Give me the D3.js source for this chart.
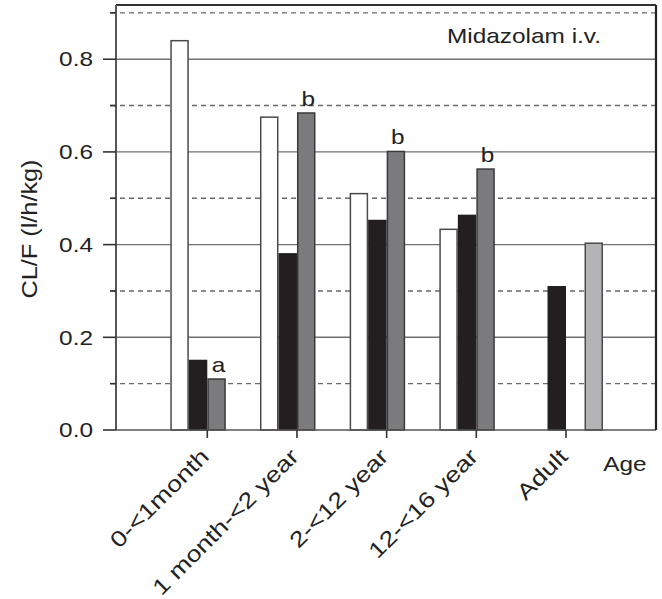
<!DOCTYPE html>
<html><head><meta charset="utf-8">
<script src="https://cdn.jsdelivr.net/npm/d3@7"></script>
<style>body{margin:0;background:#fff}svg{display:block}text{font-family:"Liberation Sans",Arial,sans-serif;fill:#222}</style>
</head><body><svg id="c" width="662" height="599"></svg>
<script>
const categories = ["0-<1month", "1 month-<2 year", "2-<12 year", "12-<16 year", "Adult"];
const seriesKeys = ["white", "black", "gray", "light"];
const whiteVals = [0.84, 0.675, 0.51, 0.433, null];
const blackVals = [0.15, 0.38, 0.452, 0.463, 0.309];
const grayVals  = [0.11, 0.684, 0.601, 0.563, null];
const lightVals = [null, null, null, null, 0.403];
const grayMarks = ["a", "b", "b", "b", ""];
const majorTicks = [0, 0.2, 0.4, 0.6, 0.8];
const minorTicks = [0.1, 0.3, 0.5, 0.7, 0.9];
const yTitle = "CL/F (l/h/kg)";
const panelTitle = "Midazolam i.v.";
const xTitle = "Age";

const svg = d3.select("#c");
const L = 116, R = 656, T = 5, B = 430;
const SX = 1.22;
const y = d3.scaleLinear().domain([0, 0.917]).range([B, T]);
const x = d3.scalePoint().domain(categories).range([207.3, 566]);
const inner = d3.scaleBand().domain(seriesKeys).range([-37, 37]);

const fills = {white: "#ffffff", black: "#231f20", gray: "#7b7b7d", light: "#b4b4b6"};
const strokes = {white: "#4a4a4a", black: "#231f20", gray: "#3a3a3a", light: "#4a4a4a"};
const vals = {white: whiteVals, black: blackVals, gray: grayVals, light: lightVals};

// gridlines
svg.append("g").selectAll("line").data(majorTicks.filter(d => d > 0)).join("line")
  .attr("x1", L).attr("x2", R).attr("y1", d => y(d)).attr("y2", d => y(d))
  .attr("stroke", "#707070").attr("stroke-width", 1.4);
svg.append("g").selectAll("line").data(minorTicks).join("line")
  .attr("x1", L - 5).attr("x2", R).attr("y1", d => y(d)).attr("y2", d => y(d))
  .attr("stroke", "#6a6a6a").attr("stroke-width", 1.4).attr("stroke-dasharray", "5,4");

// bars
const rows = [];
categories.forEach((c, i) => seriesKeys.forEach(k => {
  const v = vals[k][i];
  if (v != null) rows.push({c, k, v, i});
}));
svg.append("g").selectAll("rect").data(rows).join("rect")
  .attr("x", d => x(d.c) + inner(d.k) + 0.75)
  .attr("width", inner.bandwidth() - 1.5)
  .attr("y", d => y(d.v))
  .attr("height", d => y(0) - y(d.v))
  .attr("fill", d => fills[d.k])
  .attr("stroke", d => strokes[d.k])
  .attr("stroke-width", 1.5);

// significance marks
svg.append("g").selectAll("text").data(categories.map((c, i) => ({c, m: grayMarks[i], v: grayVals[i]})).filter(d => d.m))
  .join("text")
  .attr("transform", d => `translate(${x(d.c) + inner("gray") + inner.bandwidth() / 2 + 2},${y(d.v) - 7}) scale(${SX},1)`)
  .attr("text-anchor", "middle").attr("font-size", 20).text(d => d.m);

// frame
svg.append("line").attr("x1", L).attr("x2", R).attr("y1", B).attr("y2", B).attr("stroke", "#555").attr("stroke-width", 1.5);
svg.append("line").attr("x1", L).attr("x2", R).attr("y1", T).attr("y2", T).attr("stroke", "#333").attr("stroke-width", 2);
svg.append("line").attr("x1", R).attr("x2", R).attr("y1", T).attr("y2", B).attr("stroke", "#222").attr("stroke-width", 2.2);
svg.append("line").attr("x1", L).attr("x2", L).attr("y1", T).attr("y2", B).attr("stroke", "#555").attr("stroke-width", 2);

// y ticks
svg.append("g").selectAll("line").data(majorTicks).join("line")
  .attr("x1", L - 13).attr("x2", L).attr("y1", d => y(d)).attr("y2", d => y(d))
  .attr("stroke", "#333").attr("stroke-width", 1.6);
svg.append("g").selectAll("line").data(minorTicks).join("line")
  .attr("x1", L - 6).attr("x2", L).attr("y1", d => y(d)).attr("y2", d => y(d))
  .attr("stroke", "#333").attr("stroke-width", 1.6);
svg.append("g").selectAll("text").data(majorTicks).join("text")
  .attr("transform", d => `translate(93,${y(d)}) scale(${SX},1)`)
  .attr("dy", "0.36em").attr("text-anchor", "end").attr("font-size", 20)
  .text(d => d3.format(".1f")(d));

// x ticks
svg.append("g").selectAll("line").data(categories).join("line")
  .attr("x1", d => x(d)).attr("x2", d => x(d)).attr("y1", B).attr("y2", B + 8)
  .attr("stroke", "#333").attr("stroke-width", 1.6);
svg.append("g").selectAll("text").data(categories).join("text")
  .attr("transform", d => `translate(${x(d) + 3},${B + 28}) rotate(-45) scale(${SX},1)`)
  .attr("text-anchor", "end").attr("font-size", 22).text(d => d);

// titles
svg.append("text").attr("transform", `translate(37,229) rotate(-90) scale(1.15,1)`)
  .attr("text-anchor", "middle").attr("font-size", 22).text(yTitle);
svg.append("text").attr("transform", `translate(524,43) scale(${SX},1)`)
  .attr("text-anchor", "middle").attr("font-size", 20).text(panelTitle);
svg.append("text").attr("transform", `translate(625,471) scale(${SX},1)`)
  .attr("text-anchor", "middle").attr("font-size", 20).text(xTitle);
</script></body></html>
